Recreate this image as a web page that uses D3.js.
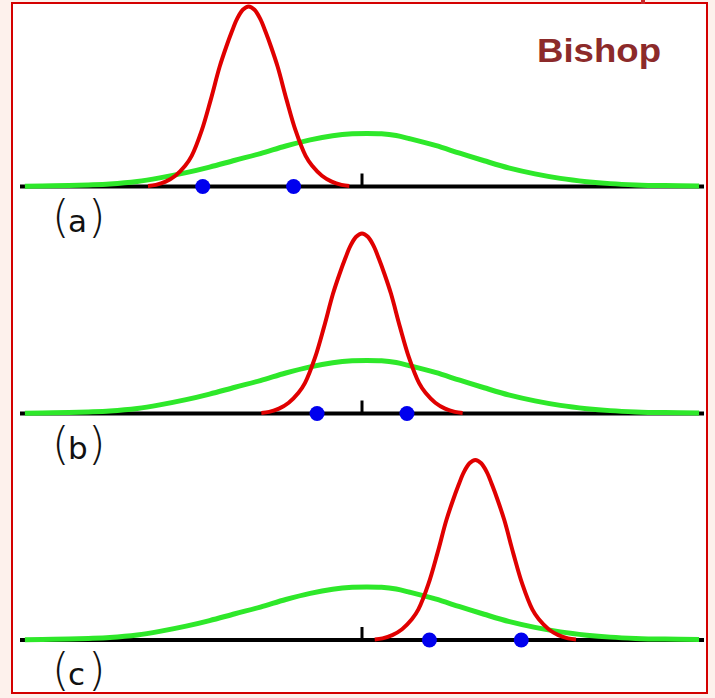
<!DOCTYPE html>
<html>
<head>
<meta charset="utf-8">
<script src="https://cdn.jsdelivr.net/npm/d3@7"></script>
<style>
  body { margin: 0; background: #fdf1ec; }
</style>
</head>
<body>
<script>
// panel labels
const panelLabels = ["(a)", "(b)", "(c)"];

// green curve, same in every panel (x, height)
const greenX = [-3.45, -3.16, -2.8, -2.58, -2.3, -2.07, -1.8, -1.56, -1.3, -1.04, -0.78, -0.53, -0.3, -0.1, 0.05, 0.2, 0.35, 0.49, 0.75, 1.0, 1.25, 1.51, 1.77, 2.03, 2.3, 2.54, 2.8, 3.1, 3.45];
const greenY = [0.002, 0.004, 0.009, 0.014, 0.028, 0.048, 0.077, 0.108, 0.146, 0.183, 0.225, 0.259, 0.282, 0.293, 0.295, 0.293, 0.283, 0.265, 0.228, 0.185, 0.143, 0.102, 0.07, 0.045, 0.027, 0.016, 0.009, 0.005, 0.003];

// red curve shape around its centre (offset, height)
const redDX = [-1.03, -0.95, -0.85, -0.75, -0.65, -0.583, -0.481, -0.389, -0.297, -0.23, -0.171, -0.12, -0.06, 0, 0.06, 0.12, 0.171, 0.23, 0.297, 0.389, 0.481, 0.583, 0.65, 0.75, 0.85, 0.95, 1.03];
const redY = [0.003, 0.009, 0.027, 0.06, 0.115, 0.17, 0.31, 0.48, 0.665, 0.775, 0.862, 0.93, 0.982, 1.0, 0.982, 0.93, 0.862, 0.775, 0.665, 0.48, 0.31, 0.17, 0.115, 0.06, 0.027, 0.009, 0.003];

// red curve centre in each panel
const redMeans = [-1.16, 0, 1.16];

// blue data points in each panel
const samples = [[-1.63, -0.70], [-0.46, 0.46], [0.69, 1.63]];

const width = 715;
const height = 698;

const svg = d3.select("body")
  .append("svg")
  .attr("width", width)
  .attr("height", height);

// white frame with red border
svg.append("rect")
  .attr("x", 12)
  .attr("y", 3)
  .attr("width", 695)
  .attr("height", 690)
  .style("fill", "#ffffff")
  .style("stroke", "#d40000")
  .style("stroke-width", 2);

// small red mark cut off at the top
svg.append("rect")
  .attr("x", 641)
  .attr("y", 0)
  .attr("width", 4)
  .attr("height", 4)
  .style("fill", "#cc2a2a");

svg.append("text")
  .attr("x", 537)
  .attr("y", 62)
  .attr("textLength", 124)
  .attr("lengthAdjust", "spacingAndGlyphs")
  .style("font-family", "'Liberation Sans', Arial, sans-serif")
  .style("font-weight", "bold")
  .style("font-size", "34px")
  .style("fill", "#8c2a2a")
  .text("Bishop");

const xScale = d3.scaleLinear()
  .domain([-3.5, 3.5])
  .range([20, 704]);

const bases = [186.5, 413.5, 640];

bases.forEach((base, i) => {
  const yScale = d3.scaleLinear()
    .domain([0, 1])
    .range([base, base - 180]);

  const line = d3.line()
    .x((d) => xScale(d[0]))
    .y((d) => yScale(d[1]))
    .curve(d3.curveCatmullRom.alpha(0.5));

  const g = svg.append("g").attr("class", "panel");

  // axis line
  g.append("line")
    .attr("x1", xScale.range()[0])
    .attr("x2", xScale.range()[1])
    .attr("y1", base)
    .attr("y2", base)
    .style("stroke", "#000")
    .style("stroke-width", 4);

  // centre tick
  g.append("line")
    .attr("x1", xScale(0))
    .attr("x2", xScale(0))
    .attr("y1", base)
    .attr("y2", base - 13)
    .style("stroke", "#000")
    .style("stroke-width", 3);

  const green = greenX.map((x, j) => [x, greenY[j]]);
  g.append("path")
    .datum(green)
    .attr("d", line)
    .style("fill", "none")
    .style("stroke", "#2ee82a")
    .style("stroke-width", 5);

  const red = redDX.map((dx, j) => [redMeans[i] + dx, redY[j]]);
  g.append("path")
    .datum(red)
    .attr("d", line)
    .style("fill", "none")
    .style("stroke", "#e00000")
    .style("stroke-width", 4);

  g.selectAll(".dot")
    .data(samples[i])
    .enter()
    .append("circle")
    .attr("class", "dot")
    .attr("cx", (d) => xScale(d))
    .attr("cy", base)
    .attr("r", 7.5)
    .style("fill", "#0000ee");

  // label, parens larger than the letter
  const chars = panelLabels[i].split("");
  const label = g.append("text")
    .attr("y", base + 45)
    .style("font-family", "'DejaVu Sans', sans-serif")
    .style("fill", "#111");
  const xs = [52, 68, 88];
  const sizes = ["45px", "31px", "45px"];
  chars.forEach((c, k) => {
    label.append("tspan")
      .attr("x", xs[k])
      .style("font-size", sizes[k])
      .style("font-weight", k === 1 ? "normal" : "200")
      .text(c);
  });
});
</script>
</body>
</html>
